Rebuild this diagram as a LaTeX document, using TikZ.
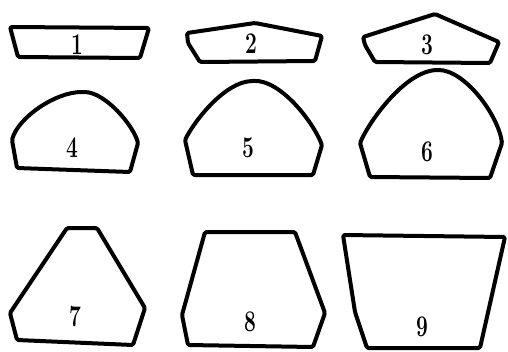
\documentclass[tikz,border=0pt]{standalone}
\usepackage{fontspec}
\usepackage{tikz}
\usetikzlibrary{positioning}
\tikzset{
  section/.style={draw=black, line width=4pt, line join=round,
    rounded corners=1.5pt},
  numlabel/.style={font=\fontsize{30}{30}\selectfont, inner sep=0pt}
}
\newcommand{\secnum}[1]{\scalebox{0.7}[1]{\bfseries #1}}
\begin{document}
\begin{tikzpicture}[x=1pt, y=-1pt]
  \useasboundingbox[fill=white] (0,0) rectangle (508,351);

  % Section 1
  \draw[section] (10,27) -- (149,28) -- (140,58) -- (18,57) -- cycle;
  \node[numlabel] (n1) at (77,45) {\secnum{1}};
  % Section 2
  \draw[section] (187,33) -- (255,23) -- (322,36) -- (315,61) -- (200,62)
    -- (188,43) -- cycle;
  \node[numlabel] (n2) at (251,44) {\secnum{2}};
  % Section 3
  \draw[section] (363,37) -- (435,14) -- (499,42) -- (490,63) -- (375,62)
    -- (365,45) -- cycle;
  \node[numlabel] (n3) at (427,45) {\secnum{3}};

  % Section 4
  \draw[section] (17,168) -- (130,172) -- (138,143)
    .. controls (133,125) and (105,92) .. (83,92)
    .. controls (55,92) and (18,118) .. (12,140) -- cycle;
  \node[numlabel] (n4) at (72,148) {\secnum{4}};
  % Section 5
  \draw[section] (193,175) -- (313,175) -- (322,145)
    .. controls (312,120) and (280,80) .. (253,81)
    .. controls (225,82) and (195,120) .. (185,140) -- cycle;
  \node[numlabel] (n5) at (248,148) {\secnum{5}};
  % Section 6
  \draw[section] (370,177) -- (490,178) -- (502,143)
    .. controls (498,115) and (465,70) .. (437,70)
    .. controls (405,72) and (370,120) .. (360,143) -- cycle;
  \node[numlabel] (n6) at (427,152) {\secnum{6}};

  % Section 7
  \draw[section] (67,228) -- (97,228) -- (145,308) -- (133,345) -- (17,340)
    -- (10,313) -- cycle;
  \node[numlabel] (n7) at (75,317) {\secnum{7}};
  % Section 8
  \draw[section] (205,232) -- (295,232) -- (325,313) -- (313,347) -- (188,345)
    -- (182,315) -- cycle;
  \node[numlabel] (n8) at (250,322) {\secnum{8}};
  % Section 9
  \draw[section] (343,235) -- (505,237) -- (480,348) -- (367,348) -- (355,312)
    -- cycle;
  \node[numlabel] (n9) at (422,327) {\secnum{9}};
\end{tikzpicture}
\end{document}
